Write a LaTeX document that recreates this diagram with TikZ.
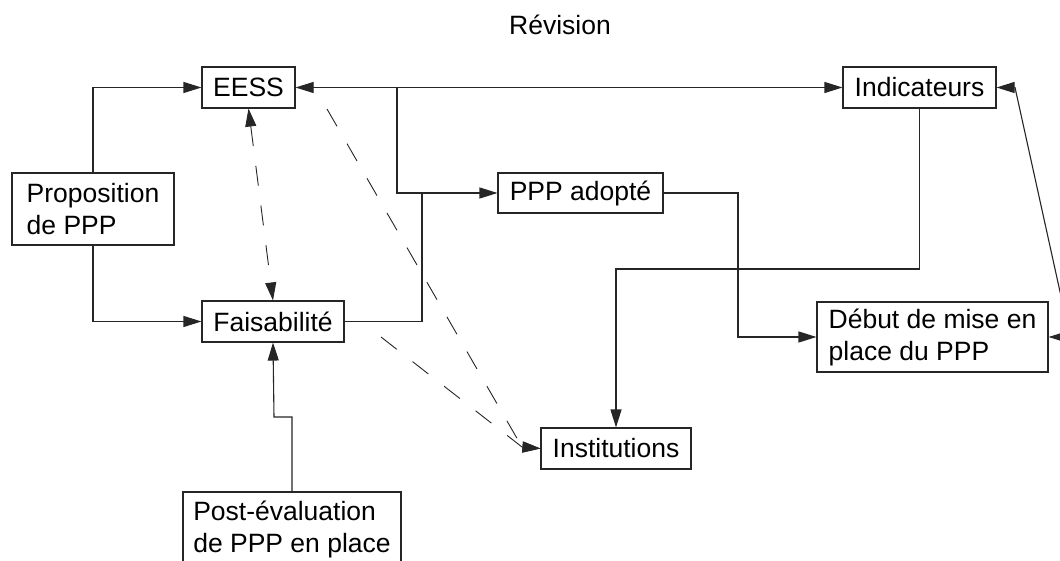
\documentclass[tikz,border=0pt]{standalone}
\usepackage{fontspec}
\setmainfont{Liberation Sans}
\usetikzlibrary{arrows.meta}
\begin{document}
\begin{tikzpicture}[x=1pt,y=-1pt,
  txt/.style={font=\fontsize{26.5}{32}\selectfont},
  box/.style={txt, draw=black!85, line width=1.1pt, inner xsep=8pt, inner ysep=0pt, align=left},
  link/.style={draw=black!85, line width=1.1pt},
  tip/.style={-{Triangle[length=18pt,width=11pt]}},
  tips/.style={{Triangle[length=18pt,width=11pt]}-{Triangle[length=18pt,width=11pt]}},
  dash link/.style={draw=black!85, line width=0.9pt, dash pattern=on 20pt off 20pt}]
\useasboundingbox (0,0) rectangle (1060,561);
\fill[white] (0,0) rectangle (1060,561);

% title
\node[txt] (rev) at (560,25) {Révision};

% boxes
\node[box, minimum width=93pt, minimum height=41pt] (eess) at (248.5,87.5) {EESS};
\node[box, minimum width=153pt, minimum height=41pt] (ind) at (919.5,87.5) {Indicateurs};
\node[box, minimum width=162pt, minimum height=72pt] (prop) at (93,209) {Proposition\\de PPP};
\node[box, minimum width=165pt, minimum height=40pt] (ppp) at (580.5,193) {PPP adopté};
\node[box, minimum width=142pt, minimum height=41pt] (fais) at (273,321.5) {Faisabilité};
\node[box, minimum width=231pt, minimum height=70pt] (deb) at (932.5,337) {Début de mise en\\place du PPP};
\node[box, minimum width=150pt, minimum height=41pt] (inst) at (616,448.5) {Institutions};
\node[box, minimum width=218pt, minimum height=74pt] (post) at (292,529) {Post-évaluation\\de PPP en place};

% junction and bend points
\coordinate (jtop) at (397,87.5);
\coordinate (jfais) at (422,193);
\coordinate (jppp) at (738,193);
\coordinate (jind) at (616,269);
\coordinate (jpost) at (274,417);
\coordinate (rbend) at (1070,337);
\coordinate (rtop) at (1015,87.5);
\coordinate (d1) at (327,109);
\coordinate (d2) at (381,337);
\coordinate (dend) at (522,447);

% solid connectors
\draw[link, tip] (prop.north) |- (eess.west);
\draw[link, tip] (prop.south) |- (fais.west);
\draw[link, tips] (eess.east) -- (ind.west);
\draw[link, tip] (jtop) |- (ppp.west);
\draw[link] (fais.east) -| (jfais);
\draw[link, tip] (ppp.east) -- (jppp) |- (deb.west);
\draw[link, tip] (ind.south) |- (jind) -- (inst.north);
\draw[link, tip] (post.north) |- (jpost) -- (fais.south);
\draw[link, tips] (deb.east) -- (rbend) -- (rtop) -- (ind.east);

% dashed connectors
\draw[dash link, tips] (eess.south) -- (fais.north);
\draw[dash link, tip] (d1) -- (dend) -- (inst.west);
\draw[dash link, tip] (d2) -- (dend) -- (inst.west);
\end{tikzpicture}
\end{document}
